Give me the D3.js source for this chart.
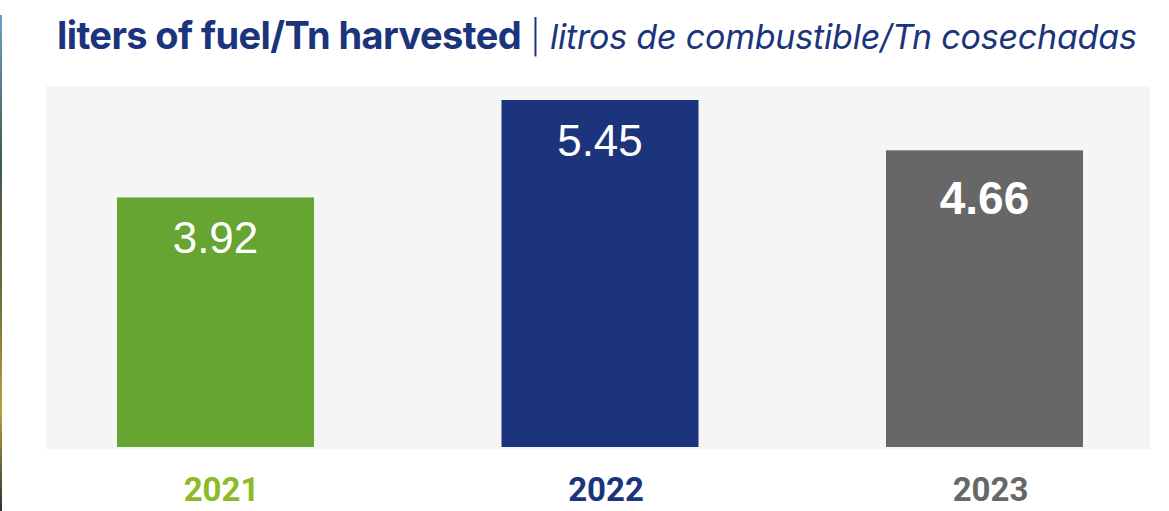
<!DOCTYPE html>
<html lang="en">
<head>
  <meta charset="UTF-8">
  <title>liters of fuel/Tn harvested</title>
  <style>
    body { margin: 0; background: #fff; }
    svg { display: block; }
  </style>
</head>
<body>
  <svg id="chart" width="1169" height="511"></svg>

  <script src="https://cdn.jsdelivr.net/npm/d3@7/dist/d3.min.js"></script>
  <script>
    // data
    var years = ["2021", "2022", "2023"];
    var litersPerTn = [3.92, 5.45, 4.66];
    var valueLabels = ["3.92", "5.45", "4.66"];

    var barColor = { "2021": "#66a531", "2022": "#1b347b", "2023": "#676767" };
    var yearColor = { "2021": "#8dbb25", "2022": "#1b347b", "2023": "#676767" };
    var boldValue = { "2023": true };

    var svg = d3.select("#chart"),
        navy = "#1b347b";

    // thin strip of the photo at the left edge
    var grad = svg.append("defs").append("linearGradient")
        .attr("id", "strip").attr("x1", 0).attr("y1", 0).attr("x2", 0).attr("y2", 1);
    grad.append("stop").attr("offset", "0%").attr("stop-color", "#6d9fc4");
    grad.append("stop").attr("offset", "30%").attr("stop-color", "#3f5a4a");
    grad.append("stop").attr("offset", "55%").attr("stop-color", "#6b6a3a");
    grad.append("stop").attr("offset", "80%").attr("stop-color", "#b8a23a");
    grad.append("stop").attr("offset", "100%").attr("stop-color", "#2a3338");
    svg.append("rect").attr("x", 0).attr("y", 15).attr("width", 2).attr("height", 496)
        .attr("fill", "url(#strip)");

    // title
    var title = svg.append("text")
        .attr("x", 57).attr("y", 49)
        .attr("fill", navy)
        .style("font-family", "Inter, 'Noto Sans', sans-serif");
    title.append("tspan").text("liters of fuel/Tn harvested")
        .style("font-weight", 700).style("font-size", "38px").style("letter-spacing", "-0.6px");
    title.append("tspan").text(" | ")
        .style("font-weight", 300).style("font-size", "33px");
    title.append("tspan").text("litros de combustible/Tn cosechadas")
        .style("font-weight", 400).style("font-style", "italic").style("font-size", "34px")
        .style("letter-spacing", "-0.2px");

    // grey panel
    var panel = { left: 46, right: 1150, top: 86, bottom: 449 };
    svg.append("rect")
        .attr("x", panel.left).attr("y", panel.top)
        .attr("width", panel.right - panel.left).attr("height", panel.bottom - panel.top)
        .attr("fill", "#f5f5f5");

    var x = d3.scaleBand()
        .domain(years)
        .range([117, 1083])
        .paddingInner(0.4876)
        .paddingOuter(0);

    var y = d3.scaleLinear()
        .domain([0, d3.max(litersPerTn)])
        .range([447, 100]);

    var rows = years.map(function (yr, i) {
      return { year: yr, value: litersPerTn[i], label: valueLabels[i] };
    });

    svg.selectAll(".bar")
      .data(rows)
      .enter().append("rect")
        .attr("class", "bar")
        .attr("x", function (d) { return x(d.year); })
        .attr("y", function (d) { return y(d.value); })
        .attr("width", x.bandwidth())
        .attr("height", function (d) { return y(0) - y(d.value); })
        .attr("fill", function (d) { return barColor[d.year]; });

    svg.selectAll(".value")
      .data(rows)
      .enter().append("text")
        .attr("class", "value")
        .attr("x", function (d) { return x(d.year) + x.bandwidth() / 2; })
        .attr("y", function (d) { return y(d.value) + (boldValue[d.year] ? 64 : 56); })
        .attr("text-anchor", "middle")
        .attr("fill", "#fff")
        .style("font-family", "'Liberation Sans', Arial, sans-serif")
        .style("font-size", function (d) { return boldValue[d.year] ? "46px" : "44px"; })
        .style("font-weight", function (d) { return boldValue[d.year] ? 700 : 400; })
        .text(function (d) { return d.label; });

    // year axis, no line or ticks
    var xAxis = svg.append("g")
        .attr("transform", "translate(6," + 501 + ")")
        .call(d3.axisBottom(x).tickSize(0).tickPadding(0));
    xAxis.select(".domain").remove();
    xAxis.selectAll("text")
        .attr("dy", 0)
        .attr("fill", function (d) { return yearColor[d]; })
        .style("font-family", "Roboto, 'Liberation Sans', sans-serif")
        .style("font-weight", 700)
        .style("font-size", "33px");
  </script>
</body>
</html>
